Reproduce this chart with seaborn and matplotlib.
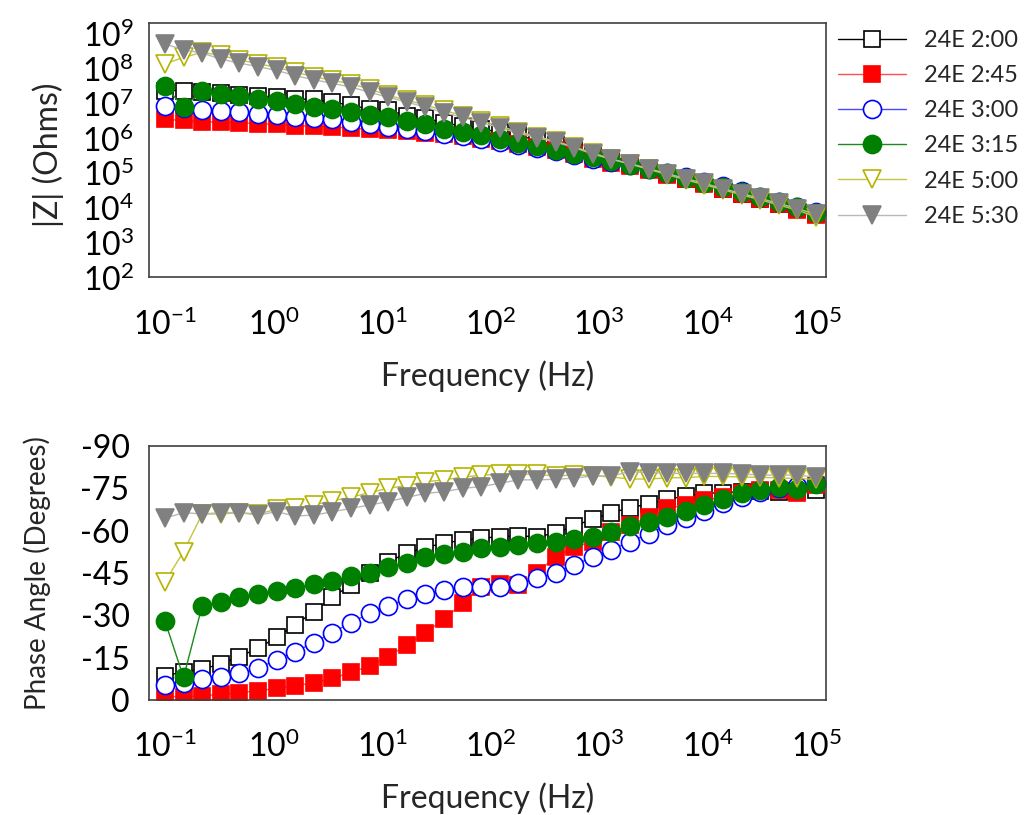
import numpy as np
import pandas as pd
import matplotlib
matplotlib.use("Agg")
import matplotlib.pyplot as plt
import seaborn as sns
from matplotlib.ticker import LogFormatterMathtext, NullFormatter, FixedLocator

# ---------------- data ----------------
freq = [0.1, 0.1484, 0.2203, 0.3268, 0.485, 0.7197, 1.068, 1.585, 2.352, 3.49,
        5.179, 7.686, 11.41, 16.92, 25.12, 37.28, 55.33, 82.1, 121.8, 180.8,
        268.3, 398.1, 590.8, 876.7, 1301, 1931, 2865, 4252, 6310, 9364,
        13895, 20620, 30600, 45410, 67390, 100000]

series_labels = ["24E 2:00", "24E 2:45", "24E 3:00", "24E 3:15", "24E 5:00", "24E 5:30"]

z_2_00 = [2.35e7, 2.35e7, 2.2e7, 2.0e7, 1.8e7, 1.62e7, 1.51e7, 1.36e7, 1.3e7, 1.09e7, 8.8e6, 7.0e6,
          6.3e6, 4.5e6, 3.9e6, 2.7e6, 2.3e6, 1.87e6, 1.5e6, 1.2e6, 8.7e5, 6.3e5, 5.0e5, 3.6e5,
          2.5e5, 1.8e5, 1.33e5, 9.6e4, 6.9e4, 5.0e4, 3.5e4, 2.5e4, 1.8e4, 1.3e4, 9.2e3, 6.5e3]
z_2_45 = [3.5e6, 3.25e6, 3.0e6, 2.9e6, 2.8e6, 2.6e6, 2.5e6, 2.3e6, 2.2e6, 2.1e6, 1.95e6, 1.8e6,
          1.68e6, 1.6e6, 1.4e6, 1.29e6, 1.13e6, 9.7e5, 8.3e5, 7.0e5, 5.6e5, 4.7e5, 3.6e5, 2.6e5,
          2.0e5, 1.55e5, 1.2e5, 8.8e4, 6.5e4, 4.7e4, 3.4e4, 2.45e4, 1.75e4, 1.25e4, 8.8e3, 6.3e3]
z_3_00 = [8.2e6, 7.5e6, 6.3e6, 6.0e6, 5.6e6, 5.0e6, 4.7e6, 4.2e6, 3.9e6, 3.5e6, 3.0e6, 2.6e6,
          2.1e6, 1.87e6, 1.6e6, 1.35e6, 1.13e6, 9.7e5, 7.8e5, 6.3e5, 5.4e5, 4.3e5, 3.4e5, 2.6e5,
          2.1e5, 1.65e5, 1.3e5, 1.02e5, 7.6e4, 5.6e4, 4.1e4, 2.95e4, 2.1e4, 1.5e4, 1.08e4, 7.5e3]
z_3_15 = [3.2e7, 7.8e6, 2.25e7, 1.9e7, 1.62e7, 1.36e7, 1.17e7, 9.8e6, 7.8e6, 6.7e6, 5.6e6, 4.7e6,
          4.0e6, 3.1e6, 2.5e6, 1.87e6, 1.5e6, 1.2e6, 9.3e5, 7.2e5, 5.8e5, 4.7e5, 3.6e5, 2.8e5,
          2.2e5, 1.7e5, 1.3e5, 1.0e5, 7.3e4, 5.3e4, 3.9e4, 2.8e4, 2.0e4, 1.45e4, 1.03e4, 7.2e3]
z_5_00 = [1.38e8, 2.1e8, 2.96e8, 2.4e8, 1.8e8, 1.38e8, 1.1e8, 7.9e7, 5.9e7, 4.6e7, 3.7e7, 2.6e7,
          1.7e7, 1.25e7, 9.0e6, 6.3e6, 4.5e6, 3.2e6, 2.2e6, 1.55e6, 1.12e6, 8.2e5, 5.6e5, 3.8e5,
          2.5e5, 1.8e5, 1.28e5, 9.0e4, 6.4e4, 4.6e4, 3.3e4, 2.35e4, 1.7e4, 1.2e4, 8.5e3, 5.5e3]
z_5_30 = [5.1e8, 3.5e8, 2.8e8, 1.9e8, 1.44e8, 1.15e8, 8.9e7, 6.3e7, 4.8e7, 3.8e7, 2.95e7, 2.1e7,
          1.5e7, 1.1e7, 7.8e6, 5.4e6, 4.0e6, 2.8e6, 2.0e6, 1.4e6, 1.04e6, 7.8e5, 5.4e5, 3.5e5,
          2.5e5, 1.86e5, 1.34e5, 9.6e4, 6.9e4, 5.0e4, 3.56e4, 2.57e4, 1.85e4, 1.33e4, 9.5e3, 6.4e3]

ph_2_00 = [-8.5, -10.0, -10.9, -12.8, -15.4, -18.3, -22.2, -26.6, -31.3, -36.4, -40.8, -45.1,
           -49.0, -52.0, -54.1, -55.5, -56.7, -57.3, -57.9, -58.1, -57.9, -59.1, -61.7, -64.1,
           -66.4, -68.1, -69.5, -71.1, -72.3, -73.2, -73.5, -73.8, -74.2, -73.8, -74.0, -74.4]
ph_2_45 = [-1.2, -1.2, -1.5, -2.0, -2.6, -3.3, -4.1, -5.0, -6.1, -7.7, -9.8, -12.0,
           -15.4, -19.5, -23.9, -28.6, -34.3, -40.2, -41.1, -40.8, -45.1, -50.8, -54.1, -56.1,
           -59.6, -62.0, -64.7, -67.9, -69.1, -70.9, -71.8, -73.2, -74.4, -74.4, -73.2, -76.2]
ph_3_00 = [-5.3, -5.9, -7.3, -8.0, -9.4, -11.2, -14.2, -17.1, -20.3, -23.9, -27.4, -30.7,
           -33.4, -35.7, -37.6, -39.0, -39.9, -40.2, -40.2, -41.3, -43.1, -45.1, -47.8, -50.6,
           -53.2, -56.1, -58.8, -62.0, -64.4, -67.1, -69.7, -72.0, -73.8, -75.0, -75.8, -76.8]
ph_3_15 = [-28.0, -8.0, -33.4, -34.8, -36.4, -37.6, -38.7, -39.6, -41.1, -42.3, -43.9, -45.1,
           -47.0, -48.7, -50.6, -51.7, -52.6, -53.7, -54.3, -54.9, -55.5, -56.1, -56.9, -57.9,
           -59.6, -61.7, -63.2, -64.7, -67.0, -69.1, -71.1, -73.2, -74.4, -75.6, -74.7, -76.5]
ph_5_00 = [-41.9, -52.6, -65.9, -65.9, -66.4, -65.9, -67.6, -67.9, -69.1, -70.6, -71.8, -73.5,
           -75.0, -76.0, -77.3, -78.0, -79.0, -79.6, -80.0, -80.0, -80.0, -79.3, -79.8, -79.5,
           -79.0, -78.3, -78.3, -78.7, -78.8, -79.2, -79.2, -79.0, -78.9, -78.7, -78.5, -78.2]
ph_5_30 = [-64.4, -66.4, -65.9, -66.4, -66.4, -65.5, -66.7, -65.2, -65.5, -66.7, -67.9, -69.1,
           -70.3, -71.8, -73.2, -73.8, -75.0, -75.6, -76.8, -78.0, -78.0, -78.2, -78.6, -79.4,
           -79.4, -80.9, -80.6, -80.3, -80.3, -80.3, -80.3, -80.1, -79.7, -79.7, -79.7, -78.9]

x_major = [1e-1, 1e0, 1e1, 1e2, 1e3, 1e4, 1e5]
z_major = [1e2, 1e3, 1e4, 1e5, 1e6, 1e7, 1e8, 1e9]
ph_major = [0, -15, -30, -45, -60, -75, -90]
ph_minor = [-7.5, -22.5, -37.5, -52.5, -67.5, -82.5]

z_list = [z_2_00, z_2_45, z_3_00, z_3_15, z_5_00, z_5_30]
ph_list = [ph_2_00, ph_2_45, ph_3_00, ph_3_15, ph_5_00, ph_5_30]

rows = []
for lab, zs, ps in zip(series_labels, z_list, ph_list):
    for f, z, p in zip(freq, zs, ps):
        rows.append({"series": lab, "freq": f, "Z": z, "phase": p})
df = pd.DataFrame(rows)


def log_minor(majors, lo, hi):
    out = []
    for m in majors + [majors[0] / 10]:
        for s in range(2, 10):
            v = m * s
            if lo <= v <= hi:
                out.append(v)
    return sorted(out)


# ---------------- style ----------------
sns.set_style("white")
plt.rcParams["font.family"] = ["Lato", "DejaVu Sans"]
plt.rcParams["mathtext.default"] = "regular"
plt.rcParams["axes.unicode_minus"] = False

styles = [
    dict(marker="s", markersize=12, markerfacecolor="white", markeredgecolor="black", color="black"),
    dict(marker="s", markersize=12, markerfacecolor="#FF0000", markeredgecolor="#FF0000", color="#FF5050"),
    dict(marker="o", markersize=13, markerfacecolor="white", markeredgecolor="#0000FF", color="#4848FF"),
    dict(marker="o", markersize=13, markerfacecolor="#008000", markeredgecolor="#008000", color="#1A8A1A"),
    dict(marker="v", markersize=13, markerfacecolor="white", markeredgecolor="#B4B400", color="#C4C440"),
    dict(marker="v", markersize=13, markerfacecolor="#808080", markeredgecolor="#808080", color="#B8B8B8"),
]

fig = plt.figure(figsize=(10.27, 8.15), dpi=100)
W, H = 1027, 815
ax1 = fig.add_axes([149 / W, 1 - 277.3 / H, 677 / W, 254.6 / H])
ax2 = fig.add_axes([149 / W, 1 - 700 / H, 677 / W, 254 / H])

for lab, st in zip(series_labels, styles):
    sub = df[df["series"] == lab]
    sns.lineplot(data=sub, x="freq", y="Z", ax=ax1, estimator=None, errorbar=None, sort=False,
                 legend=False, linewidth=1.0, markeredgewidth=1.2, label=lab, **st)
    sns.lineplot(data=sub, x="freq", y="phase", ax=ax2, estimator=None, errorbar=None, sort=False,
                 legend=False, linewidth=1.0, markeredgewidth=1.2, **st)

spine_col = "#404040"
xlo, xhi = 0.0713, 1.236e5
for ax in (ax1, ax2):
    ax.set_xscale("log")
    ax.set_xlim(xlo, xhi)
    ax.xaxis.set_major_locator(FixedLocator(x_major))
    ax.xaxis.set_minor_locator(FixedLocator(log_minor(x_major, xlo, xhi)))
    ax.xaxis.set_major_formatter(LogFormatterMathtext())
    ax.xaxis.set_minor_formatter(NullFormatter())
    for s in ax.spines.values():
        s.set_color(spine_col)
        s.set_linewidth(1.2)
        s.set_visible(True)
    ax.tick_params(axis="both", which="both", direction="in", top=False, right=False,
                   color=spine_col, width=1.0, labelsize=23, labelcolor="black")
    ax.tick_params(axis="x", which="major", length=9, pad=22)
    ax.tick_params(axis="x", which="minor", length=5)
    ax.set_xlabel("Frequency (Hz)", fontsize=23)
    ax.xaxis.set_label_coords(0.5, -0.325)
    ax.grid(False)

zlo, zhi = 1e2, 2.1e9
ax1.set_yscale("log")
ax1.set_ylim(zlo, zhi)
ax1.yaxis.set_major_locator(FixedLocator(z_major))
ax1.yaxis.set_minor_locator(FixedLocator(log_minor(z_major, zlo, zhi)))
ax1.yaxis.set_major_formatter(LogFormatterMathtext())
ax1.yaxis.set_minor_formatter(NullFormatter())
ax1.tick_params(axis="y", which="major", length=9, pad=11)
ax1.tick_params(axis="y", which="minor", length=5)
ax1.set_ylabel("|Z| (Ohms)", fontsize=23)
ax1.yaxis.set_label_coords(-0.125, 0.48)

ax2.set_ylim(0, -90)
ax2.yaxis.set_major_locator(FixedLocator(ph_major))
ax2.yaxis.set_minor_locator(FixedLocator(ph_minor))
ax2.tick_params(axis="y", which="both", length=9, pad=14)
ax2.set_ylabel("Phase Angle (Degrees)", fontsize=20)
ax2.yaxis.set_label_coords(-0.145, 0.5)

handles = ax1.get_lines()[:6]
fig.legend(handles, series_labels, loc="upper left", bbox_to_anchor=(838 / W, 1 - 30.0 / H),
           frameon=False, fontsize=17, handlelength=2.9, handletextpad=0.76,
           labelspacing=0.6, borderpad=0, borderaxespad=0, numpoints=1)

fig.savefig("out.png", dpi=100, facecolor="white")
